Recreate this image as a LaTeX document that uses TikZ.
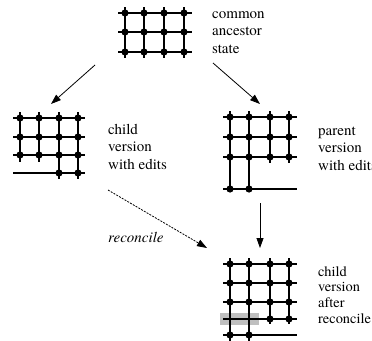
\documentclass[tikz,border=0pt]{standalone}
\usepackage{fontspec}
\setmainfont{texgyretermes}[Extension=.otf, UprightFont=*-regular, ItalicFont=*-italic]
\usetikzlibrary{arrows.meta}
\begin{document}
\begin{tikzpicture}[x=1pt,y=-1pt,
  gridline/.style={line width=2pt},
  griddot/.style={fill=black},
  caption/.style={anchor=base west, inner sep=0pt, font=\rmfamily\fontsize{15}{17.6}\selectfont},
  flow/.style={line width=0.8pt, -{Triangle[length=10pt,width=7pt]}},
  dashflow/.style={flow, dash pattern=on 2pt off 1.2pt},
]
\useasboundingbox (0,0) rectangle (372,340);

% ---------- common ancestor state ----------
\foreach \y in {13,32,52} \draw[gridline] (118,\y) -- (192,\y);
\foreach \x in {125,144,164,184} {
  \draw[gridline] (\x,7) -- (\x,58);
  \foreach \y in {13,32,52} \fill[griddot] (\x,\y) circle (3.6);
}
\node[caption] (ancestor) at (212,18)
  {\vtop{\hbox{common}\hbox{ancestor}\hbox{state}}};

% ---------- child version with edits ----------
\foreach \y in {118,137,155,173} \draw[gridline] (13,\y) -- (85,\y);
\foreach \x in {20,39} \draw[gridline] (\x,112) -- (\x,162);
\foreach \x in {59,78} {
  \draw[gridline] (\x,112) -- (\x,179);
  \fill[griddot] (\x,173) circle (3.6);
}
\foreach \x in {20,39,59,78}
  \foreach \y in {118,137,155} \fill[griddot] (\x,\y) circle (3.6);
\node[caption] (child) at (108,134)
  {\vtop{\hbox{child}\hbox{version}\hbox{with edits}}};

% ---------- parent version with edits ----------
\foreach \y in {117,137,157,189} \draw[gridline] (223,\y) -- (297,\y);
\foreach \x in {230,249} {
  \draw[gridline] (\x,111) -- (\x,190);
  \fill[griddot] (\x,189) circle (3.6);
}
\foreach \x in {270,289} \draw[gridline] (\x,111) -- (\x,163);
\foreach \x in {230,249,270,289}
  \foreach \y in {117,137,157} \fill[griddot] (\x,\y) circle (3.6);
\node[caption] (parent) at (318,135)
  {\vtop{\hbox{parent}\hbox{version}\hbox{with edits}}};

% ---------- child version after reconcile ----------
\fill[black!25] (220,313) rectangle (259,325);
\foreach \y in {264,283,302,319,335} \draw[gridline] (223,\y) -- (297,\y);
\foreach \x in {230,249} {
  \draw[gridline] (\x,258) -- (\x,341);
  \fill[griddot] (\x,335) circle (3.6);
}
\foreach \x in {270,289} {
  \draw[gridline] (\x,258) -- (\x,324);
  \fill[griddot] (\x,319) circle (3.6);
}
\foreach \x in {230,249,270,289}
  \foreach \y in {264,283,302} \fill[griddot] (\x,\y) circle (3.6);
\node[caption, font=\rmfamily\fontsize{14.4}{15.8}\selectfont] (merged) at (318,276)
  {\vtop{\hbox{child}\hbox{version}\hbox{after}\hbox{reconcile}}};

% ---------- arrows ----------
\coordinate (a1s) at (95,65);   \coordinate (a1e) at (51,104);
\coordinate (a2s) at (213,63);  \coordinate (a2e) at (260,104);
\coordinate (a3s) at (260,203); \coordinate (a3e) at (260,248);
\coordinate (a4s) at (108,190); \coordinate (a4e) at (207,248);
\draw[flow] (a1s) -- (a1e);
\draw[flow] (a2s) -- (a2e);
\draw[flow] (a3s) -- (a3e);
\draw[dashflow] (a4s) -- (a4e);
\node[caption, font=\rmfamily\itshape\fontsize{15}{17.6}\selectfont] (reconcile) at (108,242) {reconcile};
\end{tikzpicture}
\end{document}
